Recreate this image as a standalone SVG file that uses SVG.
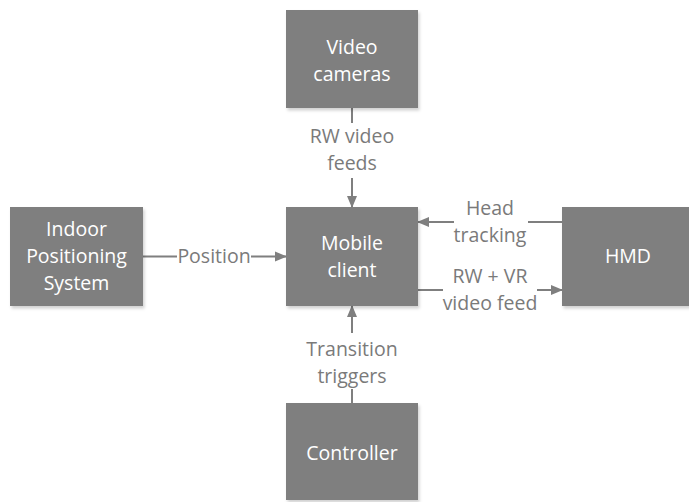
<svg xmlns="http://www.w3.org/2000/svg" width="689" height="502" viewBox="0 0 689 502">
<style>
.box{fill:#7f7f7f;filter:url(#sh)}
.bt{fill:#ffffff;font-family:"Open Sans","Noto Sans",sans-serif;font-size:19.5px;text-anchor:middle}
.lt{fill:#7a7a7a;font-family:"Open Sans","Noto Sans",sans-serif;font-size:19.5px;text-anchor:middle}
.ln{stroke:#7f7f7f;stroke-width:2;fill:none}
.ar{stroke:#7f7f7f;stroke-width:2;fill:none;marker-end:url(#ah)}
</style>
<defs>
<filter id="sh" x="-10%" y="-10%" width="130%" height="130%">
<feDropShadow dx="1.5" dy="2.5" stdDeviation="1.5" flood-color="#000" flood-opacity="0.18"/>
</filter>
<marker id="ah" markerUnits="userSpaceOnUse" markerWidth="12" markerHeight="12" refX="11" refY="6" orient="auto" viewBox="0 0 12 12">
<path d="M0,1 L12,6 L0,11 Z" fill="#7f7f7f"/>
</marker>
</defs>
<rect width="689" height="502" fill="#ffffff"/>
<g id="connectors">
<line class="ln" x1="352" y1="108" x2="352" y2="123"/>
<line class="ar" x1="352" y1="178" x2="352" y2="207"/>
<line class="ln" x1="143" y1="256.5" x2="177" y2="256.5"/>
<line class="ar" x1="251" y1="256.5" x2="286" y2="256.5"/>
<line class="ln" x1="562" y1="222" x2="528" y2="222"/>
<line class="ar" x1="454" y1="222" x2="418" y2="222"/>
<line class="ln" x1="418" y1="290" x2="443" y2="290"/>
<line class="ar" x1="537" y1="290" x2="562" y2="290"/>
<line class="ar" x1="352" y1="333" x2="352" y2="306"/>
<line class="ln" x1="352" y1="389" x2="352" y2="403"/>
<text class="lt" x="352" y="143">RW video</text>
<text class="lt" x="352" y="170">feeds</text>
<text class="lt" x="214" y="263">Position</text>
<text class="lt" x="490" y="215">Head</text>
<text class="lt" x="490" y="242">tracking</text>
<text class="lt" x="490" y="283">RW + VR</text>
<text class="lt" x="490" y="310">video feed</text>
<text class="lt" x="352" y="356">Transition</text>
<text class="lt" x="352" y="383">triggers</text>
</g>
<g id="video-cameras">
<rect class="box" x="286" y="10" width="132" height="98"/>
<text class="bt" x="352" y="54">Video</text>
<text class="bt" x="352" y="81">cameras</text>
</g>
<g id="indoor-positioning-system">
<rect class="box" x="10" y="207" width="133" height="99"/>
<text class="bt" x="76.5" y="236">Indoor</text>
<text class="bt" x="76.5" y="263">Positioning</text>
<text class="bt" x="76.5" y="290">System</text>
</g>
<g id="mobile-client">
<rect class="box" x="286" y="207" width="132" height="99"/>
<text class="bt" x="352" y="250">Mobile</text>
<text class="bt" x="352" y="277">client</text>
</g>
<g id="hmd">
<rect class="box" x="562" y="207" width="132" height="99"/>
<text class="bt" x="628" y="263">HMD</text>
</g>
<g id="controller">
<rect class="box" x="286" y="403" width="132" height="97"/>
<text class="bt" x="352" y="460">Controller</text>
</g>
</svg>
